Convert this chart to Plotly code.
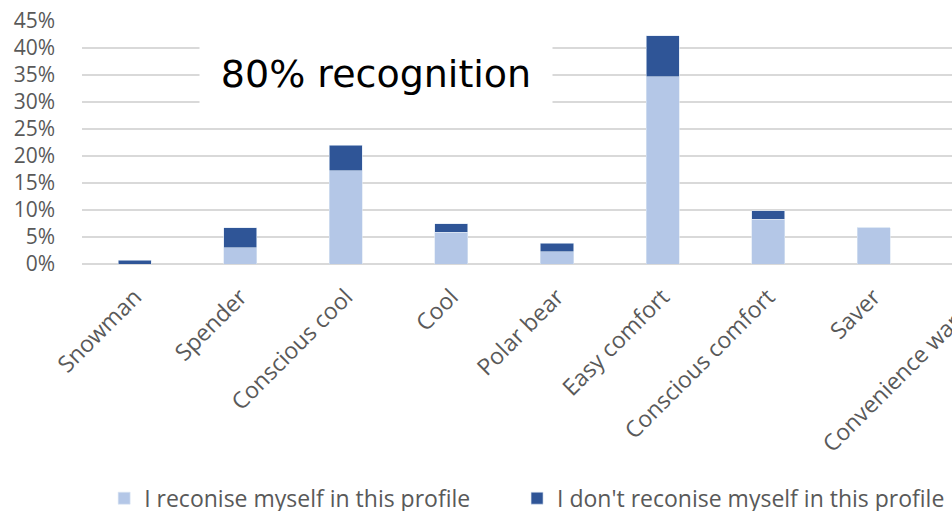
import plotly.graph_objects as go

categories = ["Snowman", "Spender", "Conscious cool", "Cool", "Polar bear",
              "Easy comfort", "Conscious comfort", "Saver", "Convenience wanter"]
recognise = [0.000, 0.030, 0.173, 0.059, 0.023, 0.347, 0.083, 0.067, 0.012]
not_recognise = [0.007, 0.037, 0.047, 0.016, 0.015, 0.076, 0.016, 0.000, 0.004]
series_names = ["I reconise myself in this profile", "I don't reconise myself in this profile"]
y_ticks = [0, 0.05, 0.10, 0.15, 0.20, 0.25, 0.30, 0.35, 0.40, 0.45]

LIGHT = "#b4c7e7"
DARK = "#2f5597"
GRID = "#d9d9d9"
TXT = "#595959"

fig = go.Figure()
fig.add_trace(go.Bar(x=categories, y=recognise, name=series_names[0], legend="legend",
                     marker=dict(color=LIGHT, line=dict(color="#dce6f4", width=0.6))))
fig.add_trace(go.Bar(x=categories, y=not_recognise, name=series_names[1], legend="legend2",
                     marker=dict(color=DARK, line=dict(color="#dce6f4", width=0.6))))

legend_common = dict(orientation="h", xref="container", yref="container",
                     xanchor="left", yanchor="middle",
                     font=dict(family="Open Sans", size=23, color=TXT))

fig.update_layout(
    barmode="stack",
    bargap=0.687,
    width=1052, height=511,
    margin=dict(l=82, r=20, t=21, b=247, autoexpand=False),
    plot_bgcolor="white", paper_bgcolor="white",
    font=dict(family="Open Sans", color=TXT),
    showlegend=True,
    legend=dict(x=0.099, y=0.025, **legend_common),
    legend2=dict(x=0.4915, y=0.025, **legend_common),
    xaxis=dict(range=[-0.5, 8.5], tickangle=-45, showgrid=False,
               tickfont=dict(family="Open Sans", size=23, color=TXT),
               showline=False, ticks="", automargin=False,
               ticklabelstandoff=14),
    yaxis=dict(range=[0, 0.45], tickvals=y_ticks, tickformat=".0%",
               showgrid=True, gridcolor=GRID, gridwidth=1.5,
               zeroline=True, zerolinecolor=GRID, zerolinewidth=1.5,
               tickfont=dict(family="Open Sans", size=21, color=TXT),
               ticklabelstandoff=26, ticks="", automargin=False),
)

fig.add_annotation(xref="paper", yref="paper", x=0.3095, y=0.782,
                   xanchor="center", yanchor="middle",
                   text="80% recognition", showarrow=False,
                   font=dict(family="DejaVu Sans", size=38, color="black"),
                   bgcolor="white", borderpad=0, width=352, height=84)

fig.write_html("out.html", config={"displayModeBar": False},
               post_script="document.documentElement.style.overflow='hidden';document.body.style.overflow='hidden';document.body.style.margin='0';")
